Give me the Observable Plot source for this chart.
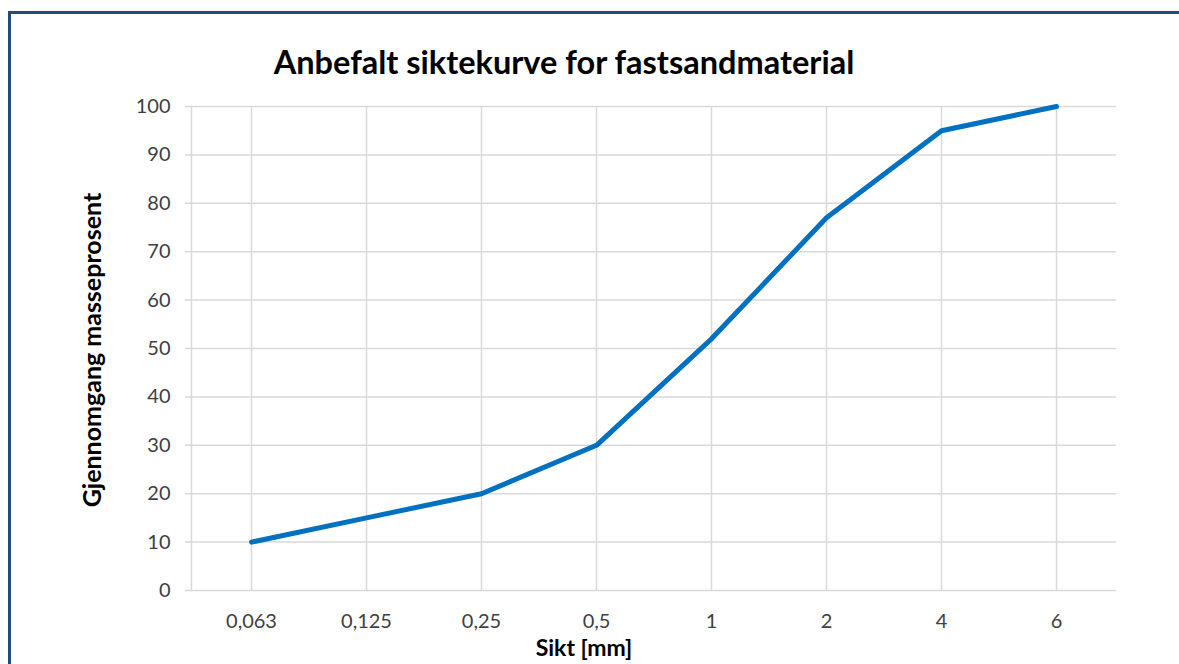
<!DOCTYPE html>
<html>
<head>
<meta charset="utf-8">
<script src="https://cdn.jsdelivr.net/npm/d3@7"></script>
<script src="https://cdn.jsdelivr.net/npm/@observablehq/plot@0.6"></script>
<style>
  html, body { margin: 0; padding: 0; background: #fff; }
  #wrap { position: relative; width: 1179px; height: 664px; overflow: hidden; font-family: Lato, "Open Sans", sans-serif; }
  #border { position: absolute; left: 8px; top: 11px; width: 1200px; height: 700px; border-left: 3px solid #1f4e79; border-top: 3px solid #1f4e79; box-shadow: 1px 1px 2px rgba(0,0,0,0.25); }
  #chart { position: absolute; left: 0; top: 0; }
  #title { position: absolute; left: 0; width: 1128px; top: 46px; line-height: 1; text-align: center; font-weight: bold; font-size: 32.5px; color: #000; white-space: nowrap; }
  #xlabel { position: absolute; left: 0; width: 1168px; top: 636px; line-height: 1; text-align: center; font-weight: bold; font-size: 23px; color: #000; white-space: nowrap; }
  #ylabel { position: absolute; left: 91px; top: 350px; line-height: 1; transform: translate(-50%, -50%) rotate(-90deg); font-weight: bold; font-size: 25px; color: #000; white-space: nowrap; }
</style>
</head>
<body>
<div id="wrap">
  <div id="border"></div>
  <div id="chart"></div>
  <div id="title">Anbefalt siktekurve for fastsandmaterial</div>
  <div id="xlabel">Sikt [mm]</div>
  <div id="ylabel">Gjennomgang masseprosent</div>
</div>
<script>
const sieves = ["0,063", "0,125", "0,25", "0,5", "1", "2", "4", "6"];
const passing = [10, 15, 20, 30, 52, 77, 95, 100];
const yTicks = [0, 10, 20, 30, 40, 50, 60, 70, 80, 90, 100];

const data = sieves.map((s, i) => ({sieve: s, value: passing[i]}));

const chart = Plot.plot({
  width: 1179,
  height: 664,
  marginLeft: 191,
  marginRight: 63,
  marginTop: 106,
  marginBottom: 74,
  style: {fontFamily: "Lato, 'Open Sans', sans-serif", fontSize: "20px", color: "#404040", background: "transparent"},
  x: {type: "point", domain: sieves, padding: 0.5},
  y: {domain: [0, 100]},
  marks: [
    Plot.ruleY(yTicks, {stroke: "#d9d9d9", strokeWidth: 1.5, strokeOpacity: 1, insetLeft: -6}),
    Plot.ruleX(sieves, {stroke: "#d9d9d9", strokeWidth: 1.5}),
    Plot.frame({anchor: "left", stroke: "#d9d9d9", strokeWidth: 1.5}),
    Plot.axisY(yTicks, {tickSize: 0, tickPadding: 21, label: null, fill: "#404040"}),
    Plot.axisX({tickSize: 0, tickPadding: 23, label: null, fill: "#404040"}),
    Plot.lineY(data, {x: "sieve", y: "value", stroke: "#0070c0", strokeWidth: 5, strokeLinejoin: "round", strokeLinecap: "round"})
  ]
});
document.getElementById("chart").appendChild(chart);
</script>
</body>
</html>
